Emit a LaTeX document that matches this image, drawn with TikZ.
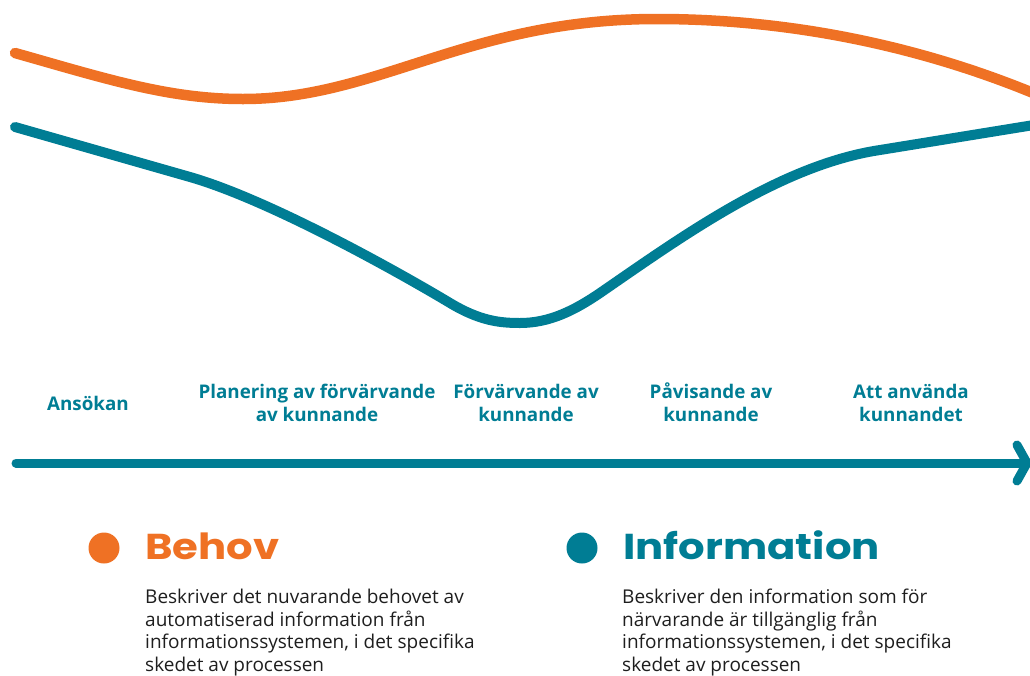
\documentclass[tikz,border=0pt]{standalone}
\usepackage{fontspec}
\setmainfont{Open Sans}
\newfontfamily\headfont{Poppins}
\definecolor{orng}{RGB}{239,113,36}
\definecolor{teal}{RGB}{0,125,148}
\definecolor{bodytxt}{RGB}{30,30,30}
\newcommand{\widehead}[1]{\scalebox{1.16}[1]{#1}}
\newcommand{\firstln}{\vphantom{ÅÖ}}
\begin{document}
\begin{tikzpicture}[x=1pt,y=-1pt,
  curveO/.style={draw=orng,line width=10.5pt,line cap=round,line join=round},
  curveT/.style={draw=teal,line width=10pt,line cap=round,line join=round},
  axisline/.style={draw=teal,line width=9pt,line cap=round,line join=round},
  phase/.style={text=teal,font=\fontsize{18.8}{23}\selectfont\bfseries,align=center,inner sep=0pt},
  headtxt/.style={font=\headfont\fontsize{36}{40}\selectfont\bfseries,inner sep=0pt,anchor=base west},
  bodytext/.style={text=bodytxt,font=\fontsize{19}{22.5}\selectfont,align=left,inner sep=0pt,anchor=north west},
  dot/.style={circle,inner sep=0pt,minimum size=31pt}]
\useasboundingbox (0,0) rectangle (1030,675);
\clip (0,0) rectangle (1030,675);
% orange curve
\coordinate (o0) at (15,53);
\coordinate (o1) at (243,99);
\coordinate (o2) at (657,19);
\coordinate (o3) at (1038,95);
\path[curveO] (o0) .. controls (110,80) and (170,99) .. (o1)
  .. controls (378,99) and (468,19) .. (o2)
  .. controls (800,19) and (930,50) .. (o3);
% teal curve
\coordinate (t0) at (15,127);
\coordinate (t1) at (190,177);
\coordinate (t2) at (450,303);
\coordinate (t3) at (520,323);
\coordinate (t4) at (600,293);
\coordinate (t5) at (880,150);
\coordinate (t6) at (1040,124);
\path[curveT] (t0) -- (t1) .. controls (270,200) and (400,273) .. (t2)
  .. controls (480,321) and (500,323) .. (t3)
  .. controls (550,323) and (575,310) .. (t4)
  .. controls (680,238) and (780,165) .. (t5) -- (t6);
% labels
\node[phase,anchor=base] (l1) at (88,410) {Ansökan};
\node[phase,anchor=north] (l2) at (317,381.5) {\firstln Planering av förvärvande\\av kunnande};
\node[phase,anchor=north] (l3) at (526,381.5) {\firstln Förvärvande av\\kunnande};
\node[phase,anchor=north] (l4) at (711,381.5) {\firstln Påvisande av\\kunnande};
\node[phase,anchor=north] (l5) at (911,381.5) {\firstln Att använda\\kunnandet};
% axis
\coordinate (a0) at (16,463);
\coordinate (a1) at (1027,463);
\coordinate (aU) at (1017,445);
\coordinate (aD) at (1017,481);
\path[axisline] (a0) -- (a1);
\path[axisline] (aU) -- (a1) -- (aD);
% legend
\node[dot,fill=orng] (d1) at (104,548) {};
\node[headtxt,text=orng] (h1) at (145,559) {\widehead{Behov}};
\node[bodytext] (b1) at (145,589) {Beskriver det nuvarande behovet av\\automatiserad information från\\informationssystemen, i det specifika\\skedet av processen};
\node[dot,fill=teal] (d2) at (582,548) {};
\node[headtxt,text=teal] (h2) at (623,559) {\widehead{Information}};
\node[bodytext] (b2) at (622,589) {Beskriver den information som för\\närvarande är tillgänglig från\\informationssystemen, i det specifika\\skedet av processen};
\end{tikzpicture}
\end{document}
